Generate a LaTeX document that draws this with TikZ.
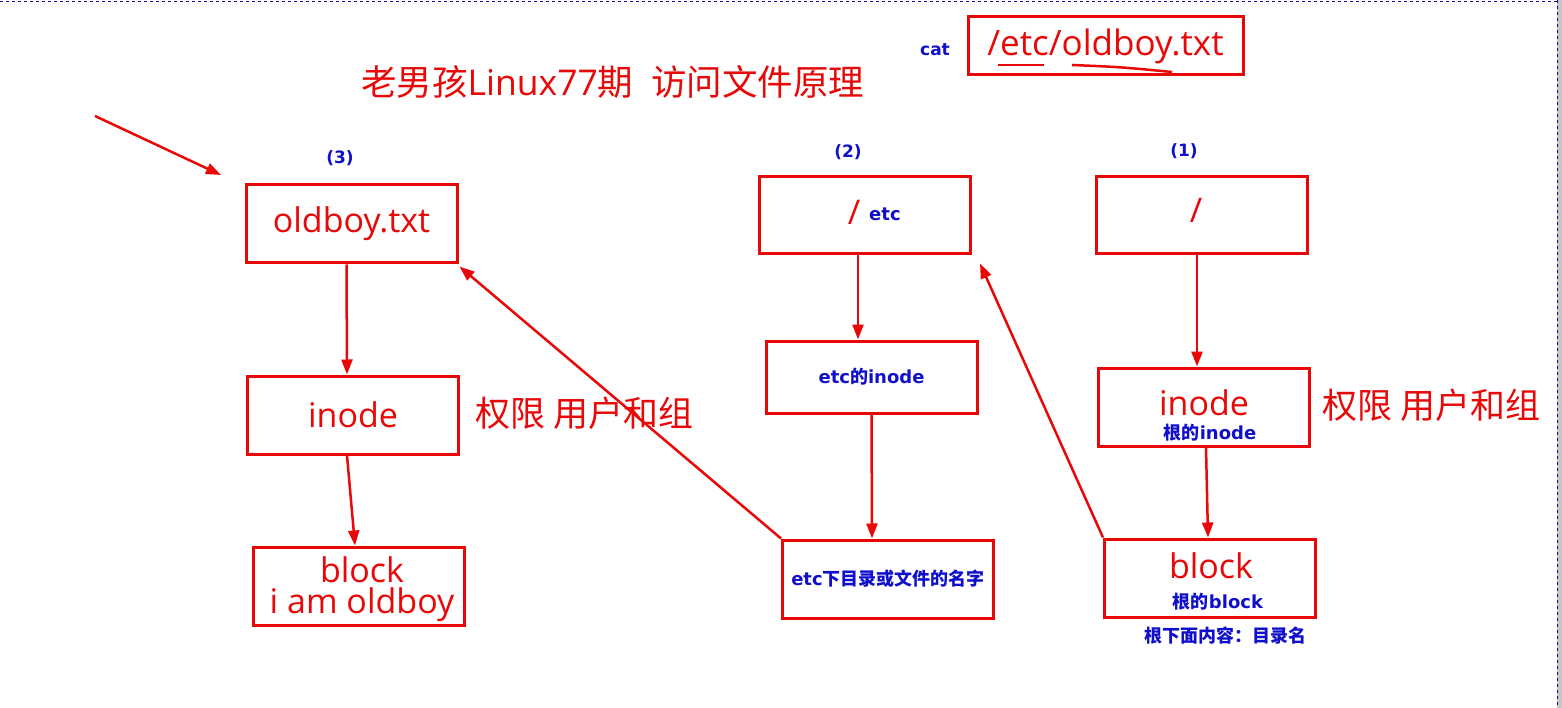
\documentclass[tikz,border=0pt]{standalone}
\usepackage{fontspec}
\setmainfont{Open Sans}
\newfontfamily\cjk{Noto Sans CJK SC}
\newfontfamily\dv{DejaVu Sans}
\usetikzlibrary{arrows.meta,calc}
\definecolor{rd}{RGB}{232,8,8}
\definecolor{bl}{RGB}{16,16,204}
\tikzset{
  box/.style={draw=rd,line width=3pt,minimum width=211pt,minimum height=78pt,inner sep=0pt},
  big/.style={text=rd,inner sep=0pt,font=\fontsize{34}{38}\selectfont},
  small/.style={text=bl,inner sep=0pt,font=\fontsize{18}{20}\selectfont\bfseries},
  arr/.style={draw=rd,line width=2.5pt,-{Triangle[length=15pt,width=11pt]}},
  uline/.style={draw=rd,line width=2.5pt}
}
\newcommand{\bz}[1]{{\cjk\bfseries #1}}
\newcommand{\bd}[1]{{\dv\bfseries #1}}
\begin{document}
\begin{tikzpicture}[x=1pt,y=-1pt]
\useasboundingbox (0,0) rectangle (1562,708);
\fill[white] (0,0) rectangle (1562,708);
% window edges
\fill[gray!45] (1557,0) rectangle (1562,708);
\draw[bl!70!black,dashed,line width=0.8pt] (0,1) -- (1557,1);
\draw[bl!70!black,dashed,line width=0.8pt] (1557,0) -- (1557,708);

% title
\node[big,anchor=west,font=\fontsize{35.5}{38}\selectfont] (title) at (361,82) {{\cjk 老男孩}Linux77{\cjk 期\enspace 访问文件原理}};

% command
\node[small,font=\fontsize{17}{19}\selectfont] (cat) at (935,50) {\bd{cat}};
\node[box,minimum width=275pt,minimum height=58pt,font=\fontsize{35}{38}\selectfont,text=rd] (path) at (1105.5,46) {/etc/oldboy.txt};
\coordinate (u1a) at (998,65); \coordinate (u1b) at (1044,65);
\coordinate (u2a) at (1072,65); \coordinate (u2b) at (1172,72);
\draw[uline] (u1a) -- (u1b);
\draw[uline] (u2a) .. controls (1120,67) .. (u2b);

% step labels
\node[small,font=\fontsize{17}{19}\selectfont] (s3) at (340,158) {\bd{(3)}};
\node[small,font=\fontsize{17}{19}\selectfont] (s2) at (848,152) {\bd{(2)}};
\node[small,font=\fontsize{17}{19}\selectfont] (s1) at (1184,151) {\bd{(1)}};

% left column
\node[box,big] (ob) at (351.5,224) {oldboy.txt};
\node[box,big] (in3) at (353,415) {inode};
\node[big,anchor=west,font=\fontsize{35}{38}\selectfont] (perm3) at (475,413) {\cjk 权限 用户和组};
\node[box] (bk3) at (359,586) {};
\node[big,align=center,font=\fontsize{34}{31}\selectfont] (bk3t) at (362,589) {block\\i am oldboy};

% middle column
\node[box,minimum height=77pt] (etc) at (865,215.5) {};
\node[big] (etcs) at (854,212) {/};
\node[small,anchor=west] (etct) at (869,214) {\bd{etc}};
\node[box,minimum height=72pt,small] (in2) at (871.5,377) {\bd{etc}\bz{的}\bd{inode}};
\node[box,small] (nm) at (888,579) {\bd{etc}\bz{下目录或文件的名字}};

% right column
\node[box,minimum height=77pt] (root) at (1202,215.5) {};
\node[big] (roots) at (1196,210) {/};
\node[box] (in1) at (1204,407) {};
\node[big] (in1a) at (1204,403) {inode};
\node[small] (in1b) at (1210,433) {\bz{根的}\bd{inode}};
\node[big,anchor=west,font=\fontsize{35}{38}\selectfont] (perm1) at (1322,405) {\cjk 权限 用户和组};
\node[box] (bk1) at (1210,578) {};
\node[big] (bk1a) at (1211,566) {block};
\node[small] (bk1b) at (1218,602) {\bz{根的}\bd{block}};
\node[small] (bk1c) at (1225,636) {\bz{根下面内容：目录名}};

% free arrow
\coordinate (fa) at (95,116);
\coordinate (fb) at (221,175);
\draw[arr] (fa) -- (fb);

% vertical arrows
\draw[arr] ([xshift=-5pt]ob.south) -- ([xshift=-6pt]in3.north);
\draw[arr] ([xshift=-6pt]in3.south) -- ([xshift=-4pt]bk3.north);
\draw[arr] ([xshift=-7pt]etc.south) -- ([xshift=-13.5pt]in2.north);
\draw[arr] (in2.south) -- ([xshift=-16pt]nm.north);
\draw[arr] ([xshift=-5pt]root.south) -- ([xshift=-7pt]in1.north);
\draw[arr] ([xshift=2pt]in1.south) -- ([xshift=-2pt]bk1.north);

% diagonal arrows
\draw[arr] (nm.north west) -- ($(ob.south east)+(1,2)$);
\draw[arr] (bk1.north west) -- ($(etc.south east)+(8,8)$);
\end{tikzpicture}
\end{document}
